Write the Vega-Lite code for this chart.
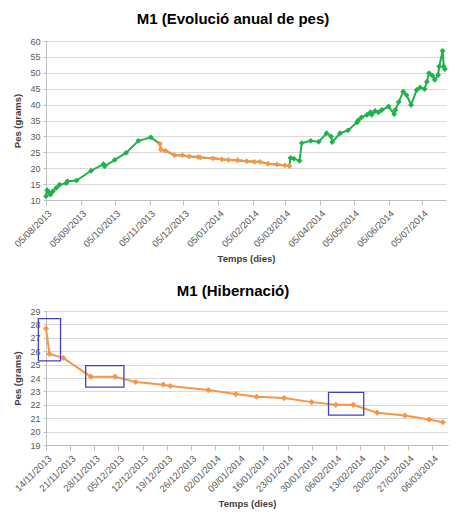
{
  "$schema": "https://vega.github.io/schema/vega-lite/v6.json",
  "background": "white",
  "padding": {"left": 12, "top": 12, "right": 5, "bottom": 5},
  "spacing": 21,
  "config": {
    "font": "Liberation Sans",
    "view": {"stroke": null},
    "axis": {
      "labelFont": "Liberation Sans", "labelFontSize": 9, "labelColor": "#595959", "labelOverlap": false,
      "titleFont": "Liberation Sans", "titleFontSize": 9.5, "titleFontWeight": "bold", "titleColor": "#404040",
      "domainColor": "#bfbfbf", "tickColor": "#bfbfbf", "gridColor": "#d9d9d9"
    },
    "axisX": {"labelFontSize": 9.5},
    "title": {"font": "Liberation Sans", "fontSize": 15, "fontWeight": "bold", "color": "#000000"}
  },
  "datasets": {
    "pes": [
      {"data": "2013-08-05", "pes": 11.2, "fase": "activa"},
      {"data": "2013-08-06", "pes": 13.1, "fase": "activa"},
      {"data": "2013-08-08", "pes": 12.2, "fase": "activa"},
      {"data": "2013-08-09", "pes": 11.7, "fase": "activa"},
      {"data": "2013-08-11", "pes": 12.7, "fase": "activa"},
      {"data": "2013-08-14", "pes": 13.8, "fase": "activa"},
      {"data": "2013-08-17", "pes": 14.8, "fase": "activa"},
      {"data": "2013-08-23", "pes": 15.3, "fase": "activa"},
      {"data": "2013-08-24", "pes": 15.9, "fase": "activa"},
      {"data": "2013-09-01", "pes": 16.1, "fase": "activa"},
      {"data": "2013-09-14", "pes": 19.2, "fase": "activa"},
      {"data": "2013-09-25", "pes": 21.3, "fase": "activa"},
      {"data": "2013-09-26", "pes": 20.6, "fase": "activa"},
      {"data": "2013-10-05", "pes": 22.6, "fase": "activa"},
      {"data": "2013-10-15", "pes": 24.8, "fase": "activa"},
      {"data": "2013-10-26", "pes": 28.6, "fase": "activa"},
      {"data": "2013-11-06", "pes": 29.7, "fase": "activa"},
      {"data": "2013-11-14", "pes": 27.7, "fase": "hibernacio"},
      {"data": "2013-11-15", "pes": 25.8, "fase": "hibernacio"},
      {"data": "2013-11-19", "pes": 25.5, "fase": "hibernacio"},
      {"data": "2013-11-27", "pes": 24.1, "fase": "hibernacio"},
      {"data": "2013-12-04", "pes": 24.1, "fase": "hibernacio"},
      {"data": "2013-12-10", "pes": 23.7, "fase": "hibernacio"},
      {"data": "2013-12-18", "pes": 23.5, "fase": "hibernacio"},
      {"data": "2013-12-20", "pes": 23.4, "fase": "hibernacio"},
      {"data": "2013-12-31", "pes": 23.1, "fase": "hibernacio"},
      {"data": "2014-01-08", "pes": 22.8, "fase": "hibernacio"},
      {"data": "2014-01-14", "pes": 22.6, "fase": "hibernacio"},
      {"data": "2014-01-22", "pes": 22.5, "fase": "hibernacio"},
      {"data": "2014-01-30", "pes": 22.2, "fase": "hibernacio"},
      {"data": "2014-02-06", "pes": 22.0, "fase": "hibernacio"},
      {"data": "2014-02-11", "pes": 22.0, "fase": "hibernacio"},
      {"data": "2014-02-18", "pes": 21.4, "fase": "hibernacio"},
      {"data": "2014-02-26", "pes": 21.2, "fase": "hibernacio"},
      {"data": "2014-03-05", "pes": 20.9, "fase": "hibernacio"},
      {"data": "2014-03-09", "pes": 20.7, "fase": "hibernacio"},
      {"data": "2014-03-10", "pes": 23.2, "fase": "activa"},
      {"data": "2014-03-13", "pes": 23.0, "fase": "activa"},
      {"data": "2014-03-18", "pes": 22.3, "fase": "activa"},
      {"data": "2014-03-20", "pes": 27.9, "fase": "activa"},
      {"data": "2014-03-28", "pes": 28.6, "fase": "activa"},
      {"data": "2014-04-04", "pes": 28.3, "fase": "activa"},
      {"data": "2014-04-11", "pes": 31.0, "fase": "activa"},
      {"data": "2014-04-15", "pes": 30.0, "fase": "activa"},
      {"data": "2014-04-16", "pes": 28.2, "fase": "activa"},
      {"data": "2014-04-23", "pes": 31.0, "fase": "activa"},
      {"data": "2014-04-30", "pes": 31.9, "fase": "activa"},
      {"data": "2014-05-08", "pes": 34.4, "fase": "activa"},
      {"data": "2014-05-09", "pes": 35.0, "fase": "activa"},
      {"data": "2014-05-12", "pes": 36.0, "fase": "activa"},
      {"data": "2014-05-17", "pes": 36.8, "fase": "activa"},
      {"data": "2014-05-20", "pes": 37.6, "fase": "activa"},
      {"data": "2014-05-21", "pes": 36.8, "fase": "activa"},
      {"data": "2014-05-24", "pes": 38.0, "fase": "activa"},
      {"data": "2014-05-27", "pes": 37.6, "fase": "activa"},
      {"data": "2014-05-30", "pes": 38.3, "fase": "activa"},
      {"data": "2014-06-05", "pes": 39.4, "fase": "activa"},
      {"data": "2014-06-10", "pes": 37.0, "fase": "activa"},
      {"data": "2014-06-11", "pes": 38.3, "fase": "activa"},
      {"data": "2014-06-14", "pes": 40.8, "fase": "activa"},
      {"data": "2014-06-18", "pes": 44.1, "fase": "activa"},
      {"data": "2014-06-21", "pes": 43.0, "fase": "activa"},
      {"data": "2014-06-25", "pes": 39.9, "fase": "activa"},
      {"data": "2014-06-30", "pes": 44.6, "fase": "activa"},
      {"data": "2014-07-03", "pes": 45.4, "fase": "activa"},
      {"data": "2014-07-07", "pes": 44.9, "fase": "activa"},
      {"data": "2014-07-09", "pes": 47.2, "fase": "activa"},
      {"data": "2014-07-11", "pes": 49.9, "fase": "activa"},
      {"data": "2014-07-14", "pes": 49.1, "fase": "activa"},
      {"data": "2014-07-16", "pes": 47.8, "fase": "activa"},
      {"data": "2014-07-19", "pes": 49.3, "fase": "activa"},
      {"data": "2014-07-20", "pes": 52.0, "fase": "activa"},
      {"data": "2014-07-23", "pes": 56.9, "fase": "activa"},
      {"data": "2014-07-24", "pes": 52.0, "fase": "activa"},
      {"data": "2014-07-25", "pes": 51.2, "fase": "activa"}
    ],
    "caixes": [
      {"data": "2013-11-11T19:00:00Z", "data2": "2013-11-18T05:00:00Z", "pes": 28.43, "pes2": 25.28},
      {"data": "2013-11-25T12:00:00Z", "data2": "2013-12-06T14:00:00Z", "pes": 24.93, "pes2": 23.32},
      {"data": "2014-02-03T21:00:00Z", "data2": "2014-02-14T02:00:00Z", "pes": 22.92, "pes2": 21.23}
    ]
  },
  "vconcat": [
    {
      "title": {"text": "M1 (Evolució anual de pes)", "dx": -13, "offset": 10},
      "width": 400,
      "height": 159,
      "data": {"name": "pes"},
      "encoding": {
        "x": {
          "field": "data", "type": "temporal",
          "scale": {"type": "utc", "domain": [{"year": 2013, "month": 8, "date": 5, "utc": true}, {"year": 2014, "month": 7, "date": 26, "utc": true}]},
          "axis": {
            "title": "Temps (dies)", "format": "%d/%m/%Y", "labelAngle": -45, "grid": false,
            "tickSize": 5, "labelPadding": 3, "titlePadding": 5,
            "values": [
              {"year": 2013, "month": 8, "date": 5, "utc": true},
              {"year": 2013, "month": 9, "date": 5, "utc": true},
              {"year": 2013, "month": 10, "date": 5, "utc": true},
              {"year": 2013, "month": 11, "date": 5, "utc": true},
              {"year": 2013, "month": 12, "date": 5, "utc": true},
              {"year": 2014, "month": 1, "date": 5, "utc": true},
              {"year": 2014, "month": 2, "date": 5, "utc": true},
              {"year": 2014, "month": 3, "date": 5, "utc": true},
              {"year": 2014, "month": 4, "date": 5, "utc": true},
              {"year": 2014, "month": 5, "date": 5, "utc": true},
              {"year": 2014, "month": 6, "date": 5, "utc": true},
              {"year": 2014, "month": 7, "date": 5, "utc": true}
            ]
          }
        },
        "y": {
          "field": "pes", "type": "quantitative",
          "scale": {"domain": [10, 60], "nice": false, "zero": false},
          "axis": {"title": "Pes (grams)", "values": [10, 15, 20, 25, 30, 35, 40, 45, 50, 55, 60], "tickSize": 3, "labelPadding": 3, "titlePadding": 7, "grid": true}
        }
      },
      "layer": [
        {"mark": {"type": "line", "color": "#21b14b", "strokeWidth": 2}},
        {"transform": [{"filter": "datum.fase == 'activa'"}], "mark": {"type": "point", "shape": "diamond", "filled": true, "opacity": 1, "size": 34, "color": "#21b14b"}},
        {"transform": [{"filter": "datum.fase == 'hibernacio'"}], "mark": {"type": "line", "color": "#f79646", "strokeWidth": 2}},
        {"transform": [{"filter": "datum.fase == 'hibernacio'"}], "mark": {"type": "point", "shape": "diamond", "filled": true, "opacity": 1, "size": 34, "color": "#f79646"}}
      ]
    },
    {
      "title": {"text": "M1 (Hibernació)", "dx": -14, "offset": 8},
      "width": 402,
      "height": 134,
      "encoding": {
        "x": {
          "field": "data", "type": "temporal",
          "scale": {"type": "utc", "domain": [{"year": 2013, "month": 11, "date": 14, "utc": true}, {"year": 2014, "month": 3, "date": 10, "hours": 12, "utc": true}]},
          "axis": {
            "title": "Temps (dies)", "format": "%d/%m/%Y", "labelAngle": -45, "grid": false,
            "tickSize": 5, "labelPadding": 3, "titlePadding": 5,
            "values": [
              {"year": 2013, "month": 11, "date": 14, "utc": true},
              {"year": 2013, "month": 11, "date": 21, "utc": true},
              {"year": 2013, "month": 11, "date": 28, "utc": true},
              {"year": 2013, "month": 12, "date": 5, "utc": true},
              {"year": 2013, "month": 12, "date": 12, "utc": true},
              {"year": 2013, "month": 12, "date": 19, "utc": true},
              {"year": 2013, "month": 12, "date": 26, "utc": true},
              {"year": 2014, "month": 1, "date": 2, "utc": true},
              {"year": 2014, "month": 1, "date": 9, "utc": true},
              {"year": 2014, "month": 1, "date": 16, "utc": true},
              {"year": 2014, "month": 1, "date": 23, "utc": true},
              {"year": 2014, "month": 1, "date": 30, "utc": true},
              {"year": 2014, "month": 2, "date": 6, "utc": true},
              {"year": 2014, "month": 2, "date": 13, "utc": true},
              {"year": 2014, "month": 2, "date": 20, "utc": true},
              {"year": 2014, "month": 2, "date": 27, "utc": true},
              {"year": 2014, "month": 3, "date": 6, "utc": true}
            ]
          }
        },
        "y": {
          "field": "pes", "type": "quantitative",
          "scale": {"domain": [19, 29], "nice": false, "zero": false},
          "axis": {"title": "Pes (grams)", "values": [19, 20, 21, 22, 23, 24, 25, 26, 27, 28, 29], "tickSize": 3, "labelPadding": 3, "titlePadding": 7, "grid": true}
        }
      },
      "layer": [
        {"data": {"name": "pes"}, "transform": [{"filter": "datum.fase == 'hibernacio'"}], "mark": {"type": "line", "color": "#f79646", "strokeWidth": 2}},
        {"data": {"name": "pes"}, "transform": [{"filter": "datum.fase == 'hibernacio'"}], "mark": {"type": "point", "shape": "diamond", "filled": true, "opacity": 1, "size": 38, "color": "#f79646"}},
        {
          "data": {"name": "caixes"},
          "mark": {"type": "rect", "fillOpacity": 0, "stroke": "#4040cc", "strokeWidth": 1.3},
          "encoding": {
            "x": {"field": "data", "type": "temporal", "title": "Temps (dies)"},
            "x2": {"field": "data2"},
            "y": {"field": "pes", "type": "quantitative", "title": "Pes (grams)"},
            "y2": {"field": "pes2"}
          }
        }
      ]
    }
  ]
}
